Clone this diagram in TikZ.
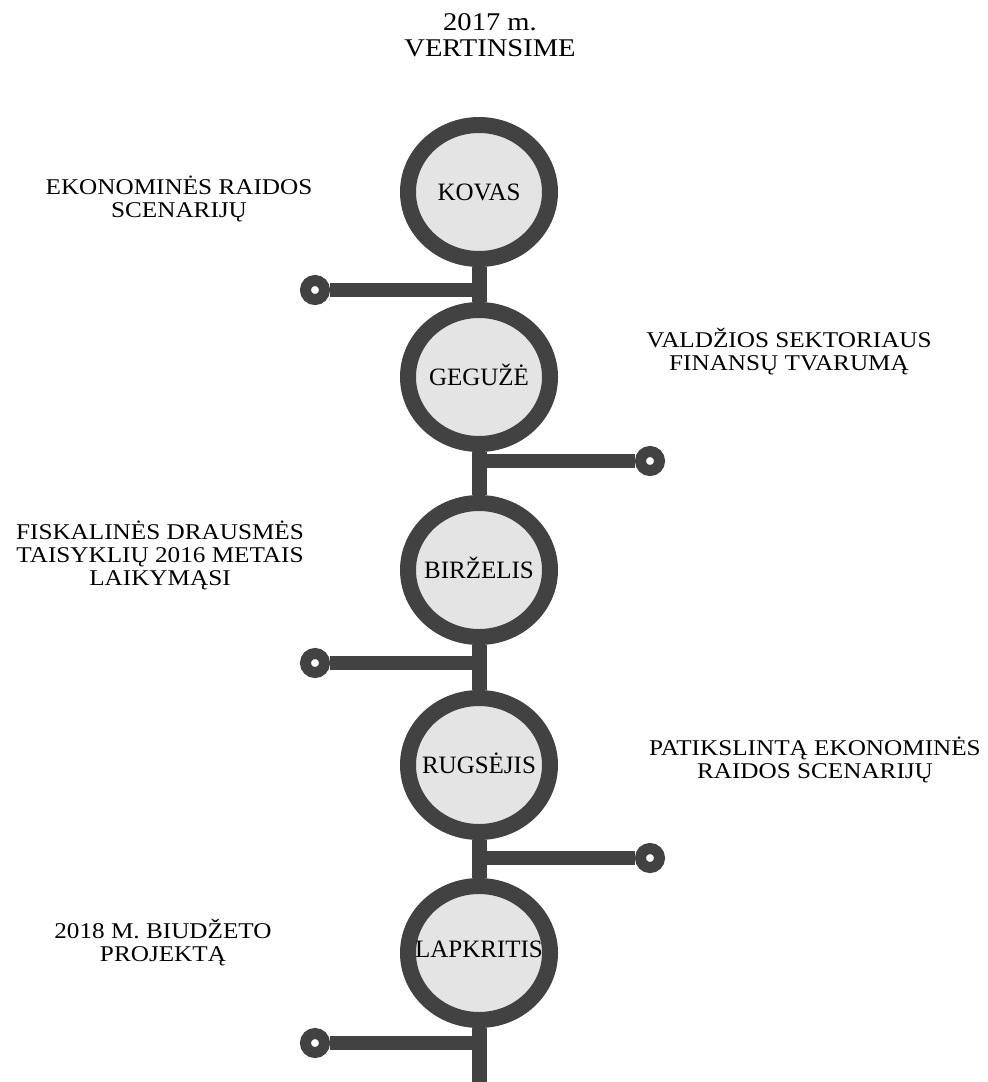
\documentclass[tikz,border=0pt]{standalone}
\usepackage{fontspec}
\setmainfont{Liberation Serif}
\newfontfamily\widefont[FakeStretch=1.12]{Liberation Serif}
\usetikzlibrary{shapes.geometric}
\definecolor{dark}{HTML}{424242}
\definecolor{ringfill}{HTML}{E4E4E4}
\newcommand\mtext[1]{\makebox[0pt]{\vphantom{K}\smash{#1}}}
\begin{document}
\begin{tikzpicture}[x=1pt,y=-1pt,
  month/.style={ellipse, draw=dark, fill=ringfill, line width=16pt,
    minimum width=142pt, minimum height=134pt, inner sep=0pt,
    font=\fontsize{25}{25}\selectfont},
  enddot/.style={circle, draw=dark, fill=white, line width=11pt,
    minimum size=19pt, inner sep=0pt},
  stem/.style={draw=dark, line width=15pt},
  branch/.style={draw=dark, line width=14pt},
  lbl/.style={align=center, inner sep=0pt,
    font=\widefont\fontsize{22.5}{23}\selectfont},
  ttl/.style={align=center, inner sep=0pt,
    font=\widefont\fontsize{25.5}{26}\selectfont}]
\useasboundingbox (0,0) rectangle (988,1082);

\node[ttl] (title) at (490,35) {2017 m.\\VERTINSIME};

\node[month] (c1) at (479,192) {\mtext{KOVAS}};
\node[month] (c2) at (479,377) {\mtext{GEGUŽĖ}};
\node[month] (c3) at (479,570) {\mtext{BIRŽELIS}};
\node[month] (c4) at (479,765) {\mtext{RUGSĖJIS}};
\node[month] (c5) at (479,953) {\raisebox{8pt}{\mtext{LAPKRITIS}}};

\coordinate (j1) at (479,290);
\coordinate (j2) at (479,461);
\coordinate (j3) at (479,663);
\coordinate (j4) at (479,858);
\coordinate (j5) at (479,1043);
\coordinate (bot) at (479,1090);

\node[enddot] (d1) at (315,290) {};
\node[enddot] (d2) at (650,461) {};
\node[enddot] (d3) at (315,663) {};
\node[enddot] (d4) at (650,858) {};
\node[enddot] (d5) at (315,1043) {};

\draw[stem] (c1.south) -- (c2.north);
\draw[stem] (c2.south) -- (c3.north);
\draw[stem] (c3.south) -- (c4.north);
\draw[stem] (c4.south) -- (c5.north);
\draw[stem] (c5.south) -- (bot);

\draw[branch] ([xshift=7pt]j1) -- (d1);
\draw[branch] ([xshift=-7pt]j2) -- (d2);
\draw[branch] ([xshift=7pt]j3) -- (d3);
\draw[branch] ([xshift=-7pt]j4) -- (d4);
\draw[branch] ([xshift=7pt]j5) -- (d5);

\node[lbl] (l1) at (179,199) {EKONOMINĖS RAIDOS\\SCENARIJŲ};
\node[lbl] (l2) at (789,352) {VALDŽIOS SEKTORIAUS\\FINANSŲ TVARUMĄ};
\node[lbl] (l3) at (160,555) {FISKALINĖS DRAUSMĖS\\TAISYKLIŲ 2016 METAIS\\LAIKYMĄSI};
\node[lbl] (l4) at (815,760) {PATIKSLINTĄ EKONOMINĖS\\RAIDOS SCENARIJŲ};
\node[lbl] (l5) at (163,943) {2018 M. BIUDŽETO\\PROJEKTĄ};
\end{tikzpicture}
\end{document}
